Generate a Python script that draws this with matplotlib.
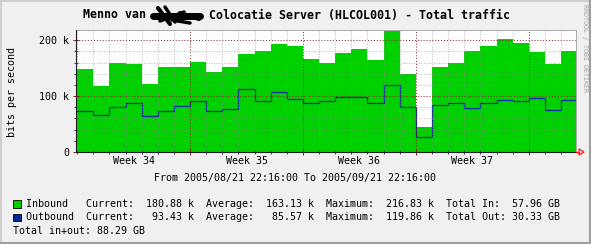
import matplotlib
matplotlib.use('Agg')
import matplotlib.pyplot as plt
from matplotlib.patches import Rectangle, Polygon
from matplotlib.lines import Line2D
import numpy as np
from datetime import datetime, timedelta

# ---------------- data ----------------
start = datetime(2005, 8, 21, 22, 16)
end = datetime(2005, 9, 21, 22, 16)

inbound_k = [148, 119, 159, 157, 121, 152, 153, 162, 143, 153, 176, 180, 194, 189,
             167, 160, 177, 185, 165, 216.83, 140.5, 45, 153, 159, 181.6, 190.5,
             203, 195, 178.6, 157, 180.88]
outbound_k = [74, 67, 81, 88, 65, 74, 83, 92, 74, 77, 112, 92, 108, 95,
              87, 92, 98, 98, 87, 119.86, 81, 26, 85, 87, 78, 88,
              94, 92, 96, 76, 93.43]

week_labels = ["Week 34", "Week 35", "Week 36", "Week 37"]
week_mondays = [datetime(2005, 8, 22), datetime(2005, 8, 29), datetime(2005, 9, 5),
                datetime(2005, 9, 12), datetime(2005, 9, 19)]
ytick_vals = [0, 100, 200]
ytick_labels = ["0", "100 k", "200 k"]

title_left = "Menno van"
title_right = "Colocatie Server (HLCOL001) - Total traffic"
y_label = "bits per second"
period_text = "From 2005/08/21 22:16:00 To 2005/09/21 22:16:00"
legend_rows = [
    "Inbound   Current:  180.88 k  Average:  163.13 k  Maximum:  216.83 k  Total In:  57.96 GB",
    "Outbound  Current:   93.43 k  Average:   85.57 k  Maximum:  119.86 k  Total Out: 30.33 GB",
]
total_row = "Total in+out: 88.29 GB"
watermark = "RRDTOOL / TOBI OETIKER"

IN_COLOR = '#00CF00'
OUT_COLOR = '#002A97'

# ---------------- helpers ----------------
W, H = 591, 244
def days(d):
    return (d - start).total_seconds() / 86400.0

span = days(end)
edges = [0.0] + [days(datetime(2005, 8, 23) + timedelta(days=i)) for i in range(30)] + [span]
midnights = [days(datetime(2005, 8, 22) + timedelta(days=i)) for i in range(31)]
majors = [days(m) for m in week_mondays[1:]]
week_centers = [days(m + timedelta(days=3.5)) for m in week_mondays[:4]]

fig = plt.figure(figsize=(W / 100, H / 100), dpi=100)
fig.patch.set_facecolor('#F0F0F0')

FONT = 'DejaVu Sans Mono'
SMALL = 7.2

def ptext(x, y, s, **kw):
    kw.setdefault('family', FONT)
    kw.setdefault('fontsize', SMALL)
    return fig.text(x / W, 1 - y / H, s, **kw)

# plot area
px_left, px_right, px_top, px_bottom = 76, 576, 30, 152
ax = fig.add_axes([px_left / W, 1 - px_bottom / H, (px_right - px_left) / W, (px_bottom - px_top) / H])
ymax = 218.5
ax.set_xlim(0, span)
ax.set_ylim(0, ymax)
ax.set_facecolor('white')

ax.stairs(inbound_k, edges, fill=True, color=IN_COLOR, lw=0, zorder=1)
ax.stairs(outbound_k, edges, color=OUT_COLOR, lw=0.9, zorder=2, baseline=None)

# grid
minor_y = [v for v in np.arange(20, ymax, 20) if v % 100 != 0]
ax.vlines([m for m in midnights if m not in majors and m > 0.05], 0, ymax,
          colors='#8C8C8C', linestyles=(0, (1, 2)), lw=0.6, alpha=0.8, zorder=3)
ax.hlines(minor_y, 0, span, colors='#8C8C8C', linestyles=(0, (1, 2)), lw=0.6, alpha=0.8, zorder=3)
ax.vlines(majors, 0, ymax, colors='#821E1E', linestyles=(0, (1, 2)), lw=0.7, zorder=4)
ax.hlines([v for v in ytick_vals if v > 0], 0, span, colors='#821E1E',
          linestyles=(0, (1, 2)), lw=0.7, zorder=4)

for s in ['top', 'right']:
    ax.spines[s].set_color('#AAAAAA')
    ax.spines[s].set_linewidth(0.7)
for s in ['left', 'bottom']:
    ax.spines[s].set_color('#202020')
    ax.spines[s].set_linewidth(0.8)
    ax.spines[s].set_zorder(6)

ax.set_yticks(ytick_vals)
ax.set_yticks(minor_y, minor=True)
ax.set_xticks(majors)
ax.set_xticks(midnights, minor=True)
ax.tick_params(which='major', direction='inout', length=4, width=0.7, color='#821E1E',
               labelleft=False, labelbottom=False)
ax.tick_params(which='minor', direction='inout', length=2.5, width=0.7, color='#404040',
               labelleft=False, labelbottom=False)

# y tick labels
for v, lab in zip(ytick_vals, ytick_labels):
    ypix = px_bottom - (px_bottom - px_top) * v / ymax
    ptext(69, ypix + 1, lab, ha='right', va='center')

# week labels
for c, lab in zip(week_centers, week_labels):
    xpix = px_left + (px_right - px_left) * c / span
    ptext(xpix, 161, lab, ha='center', va='center')

# arrow at end of x axis
fig.add_artist(Line2D([576 / W, 579 / W], [1 - 152 / H, 1 - 152 / H], color='red', lw=0.8))
fig.add_artist(Polygon([[579 / W, 1 - 149 / H], [584 / W, 1 - 152 / H], [579 / W, 1 - 155 / H]],
                       closed=True, fill=False, edgecolor='red', lw=0.8,
                       transform=fig.transFigure))

# title
ptext(83, 15, title_left, ha='left', va='center', fontsize=8.4, fontweight='bold')
ptext(209, 15, title_right, ha='left', va='center', fontsize=8.4, fontweight='bold')
# censoring scribble
scrib = [
    ([153, 200], [16, 16], 5.0),
    ([158, 170], [8, 24], 3.0),
    ([165, 175], [7, 22], 2.5),
    ([160, 184], [21, 12], 2.5),
    ([180, 199], [13, 19], 3.0),
    ([172, 190], [20, 23], 2.5),
]
for xs, ys, lw in scrib:
    fig.add_artist(Line2D([x / W for x in xs], [1 - y / H for y in ys], color='black',
                          lw=lw, solid_capstyle='round'))

# y label
ptext(12, 92, y_label, ha='center', va='center', rotation=90)

# watermark
ptext(585, 4, watermark, ha='center', va='top', rotation=270, fontsize=4.8, color='#A0A0A0')

# period
ptext(295, 178.5, period_text, ha='center', va='center')

# legend
box_colors = [IN_COLOR, OUT_COLOR]
row_y = [204, 217.3]
for row, c, y in zip(legend_rows, box_colors, row_y):
    fig.add_artist(Rectangle((12.5 / W, 1 - (y + 3.8) / H), 8 / W, 7.5 / H,
                             facecolor=c, edgecolor='black', lw=0.6,
                             transform=fig.transFigure))
    ptext(25.5, y, row, ha='left', va='center')
ptext(13, 230.5, total_row, ha='left', va='center')

# 3D-ish border
fig.add_artist(Line2D([0, 1], [1 - 0.5 / H, 1 - 0.5 / H], color='#CFCFCF', lw=1.5))
fig.add_artist(Line2D([0.5 / W, 0.5 / W], [0, 1], color='#CFCFCF', lw=1.5))
fig.add_artist(Line2D([0, 1], [1 / H, 1 / H], color='#9E9E9E', lw=1.5))
fig.add_artist(Line2D([1 - 1 / W, 1 - 1 / W], [0, 1], color='#9E9E9E', lw=1.5))

fig.savefig('out.png', dpi=100, facecolor=fig.get_facecolor())
